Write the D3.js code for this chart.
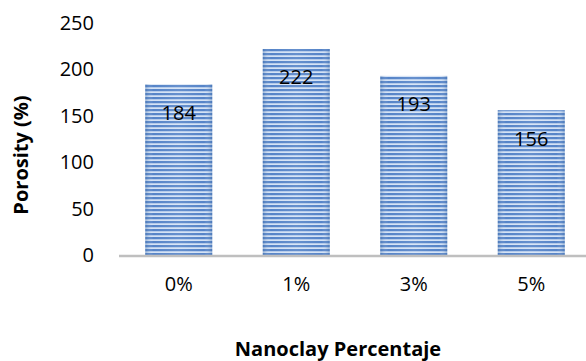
<!DOCTYPE html>
<html>
<head>
<meta charset="utf-8">
<script src="https://cdn.jsdelivr.net/npm/d3@7"></script>
<style>
  html, body { margin: 0; padding: 0; background: #fff; }
  svg { display: block; }
  text { font-family: "Open Sans", "Liberation Sans", sans-serif; fill: #000; }
</style>
</head>
<body>
<svg id="chart" width="586" height="361"></svg>
<script>
// Porosity by nanoclay content
const categories = ["0%", "1%", "3%", "5%"];
const porosity = [184, 222, 193, 156];
const yTicks = [0, 50, 100, 150, 200, 250];
const yTitle = "Porosity (%)";
const xTitle = "Nanoclay Percentaje";

const svg = d3.select("#chart");
const W = 586, H = 361;

const x = d3.scaleBand().domain(categories).range([120, 590]).paddingInner(0.43).paddingOuter(0.215);
const y = d3.scaleLinear().domain([0, 250]).range([255, 23]);

const defs = svg.append("defs");

// horizontal stripes
const pat = defs.append("pattern")
  .attr("id", "stripes")
  .attr("patternUnits", "userSpaceOnUse")
  .attr("width", 8).attr("height", 4)
  .attr("y", 1);
pat.append("rect").attr("width", 8).attr("height", 4).attr("fill", "#d4e2f5");
pat.append("rect").attr("y", 0).attr("width", 8).attr("height", 2).attr("fill", "#5684c8");
pat.append("rect").attr("y", 2).attr("width", 8).attr("height", 0.6).attr("fill", "#9dbbe4");

// shading across each bar: darker edges, lighter middle
const grad = defs.append("linearGradient")
  .attr("id", "shade")
  .attr("x1", "0%").attr("x2", "100%").attr("y1", "0%").attr("y2", "0%");
grad.append("stop").attr("offset", "0%").attr("stop-color", "#2f5f9e").attr("stop-opacity", 0.35);
grad.append("stop").attr("offset", "12%").attr("stop-color", "#ffffff").attr("stop-opacity", 0.0);
grad.append("stop").attr("offset", "50%").attr("stop-color", "#ffffff").attr("stop-opacity", 0.1);
grad.append("stop").attr("offset", "88%").attr("stop-color", "#ffffff").attr("stop-opacity", 0.0);
grad.append("stop").attr("offset", "100%").attr("stop-color", "#2f5f9e").attr("stop-opacity", 0.35);

const data = categories.map((c, i) => ({ c, v: porosity[i] }));

const bars = svg.append("g");
bars.selectAll("rect.bar").data(data).join("rect")
  .attr("class", "bar")
  .attr("x", d => x(d.c)).attr("width", x.bandwidth())
  .attr("y", d => y(d.v)).attr("height", d => y(0) - y(d.v))
  .attr("fill", "url(#stripes)");
bars.selectAll("rect.shade").data(data).join("rect")
  .attr("class", "shade")
  .attr("x", d => x(d.c)).attr("width", x.bandwidth())
  .attr("y", d => y(d.v)).attr("height", d => y(0) - y(d.v))
  .attr("fill", "url(#shade)");

// value labels inside bars
svg.append("g").selectAll("text").data(data).join("text")
  .attr("x", d => x(d.c) + x.bandwidth() / 2)
  .attr("y", d => y(d.v) + 28)
  .attr("text-anchor", "middle")
  .attr("dominant-baseline", "central")
  .attr("font-size", 20)
  .text(d => d.v);

// y axis labels (no line, no ticks)
const yAxis = svg.append("g").attr("transform", "translate(94,0)")
  .call(d3.axisLeft(y).tickValues(yTicks).tickSize(0).tickPadding(0));
yAxis.select(".domain").remove();
yAxis.selectAll("text").attr("font-size", 20).attr("font-family", "'Open Sans', sans-serif").attr("fill", "#000");

// x axis: gray baseline and category labels
svg.append("line")
  .attr("x1", 119).attr("x2", W)
  .attr("y1", y(0) + 1).attr("y2", y(0) + 1)
  .attr("stroke", "#bfbfbf").attr("stroke-width", 2.5);

const xAxis = svg.append("g").attr("transform", `translate(0,${y(0) + 1})`)
  .call(d3.axisBottom(x).tickSize(0).tickPadding(21));
xAxis.select(".domain").remove();
xAxis.selectAll("text").attr("font-size", 20).attr("font-family", "'Open Sans', sans-serif").attr("fill", "#000");

// axis titles
svg.append("text")
  .attr("transform", "translate(20,155) rotate(-90)")
  .attr("text-anchor", "middle")
  .attr("dominant-baseline", "central")
  .attr("font-size", 20).attr("font-weight", "bold")
  .text(yTitle);

svg.append("text")
  .attr("x", 338).attr("y", 348)
  .attr("text-anchor", "middle")
  .attr("dominant-baseline", "central")
  .attr("font-size", 20).attr("font-weight", "bold")
  .text(xTitle);
</script>
</body>
</html>
